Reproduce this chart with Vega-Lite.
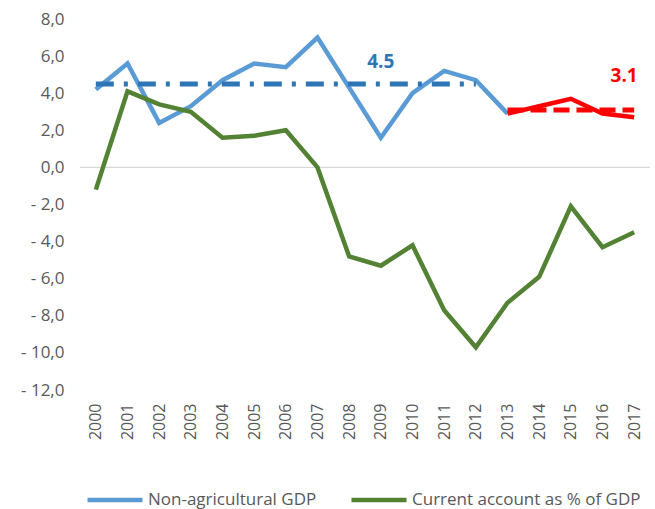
{
  "$schema": "https://vega.github.io/schema/vega-lite/v6.json",
  "width": 570,
  "height": 371,
  "autosize": {"type": "none"},
  "padding": {"left": 80, "top": 19, "right": 5, "bottom": 119},
  "config": {
    "view": {"stroke": null},
    "font": "Open Sans",
    "axis": {"labelColor": "#595959", "labelFontSize": 17, "grid": false, "domain": false, "ticks": false, "title": null}
  },
  "datasets": {
    "series": [
      {"year": "2000", "series": "Non-agricultural GDP", "value": 4.2},
      {"year": "2001", "series": "Non-agricultural GDP", "value": 5.6},
      {"year": "2002", "series": "Non-agricultural GDP", "value": 2.4},
      {"year": "2003", "series": "Non-agricultural GDP", "value": 3.3},
      {"year": "2004", "series": "Non-agricultural GDP", "value": 4.7},
      {"year": "2005", "series": "Non-agricultural GDP", "value": 5.6},
      {"year": "2006", "series": "Non-agricultural GDP", "value": 5.4},
      {"year": "2007", "series": "Non-agricultural GDP", "value": 7.0},
      {"year": "2008", "series": "Non-agricultural GDP", "value": 4.3},
      {"year": "2009", "series": "Non-agricultural GDP", "value": 1.6},
      {"year": "2010", "series": "Non-agricultural GDP", "value": 4.0},
      {"year": "2011", "series": "Non-agricultural GDP", "value": 5.2},
      {"year": "2012", "series": "Non-agricultural GDP", "value": 4.7},
      {"year": "2013", "series": "Non-agricultural GDP", "value": 2.9},
      {"year": "2000", "series": "Current account as % of GDP", "value": -1.2},
      {"year": "2001", "series": "Current account as % of GDP", "value": 4.1},
      {"year": "2002", "series": "Current account as % of GDP", "value": 3.4},
      {"year": "2003", "series": "Current account as % of GDP", "value": 3.0},
      {"year": "2004", "series": "Current account as % of GDP", "value": 1.6},
      {"year": "2005", "series": "Current account as % of GDP", "value": 1.7},
      {"year": "2006", "series": "Current account as % of GDP", "value": 2.0},
      {"year": "2007", "series": "Current account as % of GDP", "value": 0.0},
      {"year": "2008", "series": "Current account as % of GDP", "value": -4.8},
      {"year": "2009", "series": "Current account as % of GDP", "value": -5.3},
      {"year": "2010", "series": "Current account as % of GDP", "value": -4.2},
      {"year": "2011", "series": "Current account as % of GDP", "value": -7.7},
      {"year": "2012", "series": "Current account as % of GDP", "value": -9.7},
      {"year": "2013", "series": "Current account as % of GDP", "value": -7.3},
      {"year": "2014", "series": "Current account as % of GDP", "value": -5.9},
      {"year": "2015", "series": "Current account as % of GDP", "value": -2.1},
      {"year": "2016", "series": "Current account as % of GDP", "value": -4.3},
      {"year": "2017", "series": "Current account as % of GDP", "value": -3.5}
    ],
    "forecast": [
      {"year": "2013", "value": 2.9},
      {"year": "2014", "value": 3.3},
      {"year": "2015", "value": 3.7},
      {"year": "2016", "value": 2.9},
      {"year": "2017", "value": 2.7}
    ],
    "avg": [
      {"year": "2000", "kind": "past", "value": 4.5},
      {"year": "2012", "kind": "past", "value": 4.5},
      {"year": "2013", "kind": "future", "value": 3.1},
      {"year": "2017", "kind": "future", "value": 3.1}
    ],
    "labels": [
      {"year": "2009", "kind": "past", "value": 5.7, "text": "4.5"},
      {"year": "2017", "kind": "future", "value": 4.95, "text": "3.1"}
    ]
  },
  "encoding": {
    "x": {
      "field": "year", "type": "ordinal",
      "scale": {"type": "point", "padding": 0.5, "domain": ["2000","2001","2002","2003","2004","2005","2006","2007","2008","2009","2010","2011","2012","2013","2014","2015","2016","2017"]},
      "axis": {"labelAngle": -90, "labelPadding": 13, "labelFontSize": 16}
    },
    "y": {
      "field": "value", "type": "quantitative",
      "scale": {"domain": [-12, 8], "nice": false, "zero": false},
      "axis": {"values": [-12,-10,-8,-6,-4,-2,0,2,4,6,8], "labelPadding": 16,
        "labelExpr": "datum.value < 0 ? '- ' + replace(format(abs(datum.value), '.1f'), '.', ',') : replace(format(datum.value, '.1f'), '.', ',')"}
    }
  },
  "layer": [
    {
      "data": {"values": [{"value": 0}]},
      "mark": {"type": "rule", "color": "#d9d9d9", "strokeWidth": 1.2},
      "encoding": {"x": null, "y": {"field": "value", "type": "quantitative"}}
    },
    {
      "data": {"name": "series"},
      "mark": {"type": "line", "strokeWidth": 4.5},
      "encoding": {
        "color": {
          "field": "series", "type": "nominal",
          "scale": {"domain": ["Non-agricultural GDP", "Current account as % of GDP"], "range": ["#5b9bd5", "#548235"]},
          "legend": {
            "title": null, "orient": "none", "legendX": 5, "legendY": 451, "direction": "horizontal",
            "symbolType": "stroke", "symbolStrokeWidth": 4.5, "symbolSize": 3025,
            "labelFontSize": 17, "labelColor": "#595959", "labelOffset": 3, "columnPadding": 25, "labelLimit": 400
          }
        }
      }
    },
    {
      "data": {"name": "forecast"},
      "mark": {"type": "line", "strokeWidth": 4.5, "color": "#ff0000"}
    },
    {
      "data": {"name": "avg"},
      "transform": [{"filter": "datum.kind === 'past'"}],
      "mark": {"type": "line", "strokeWidth": 5, "color": "#2e75b6", "strokeDash": [18, 10, 4, 10]}
    },
    {
      "data": {"name": "avg"},
      "transform": [{"filter": "datum.kind === 'future'"}],
      "mark": {"type": "line", "strokeWidth": 5, "color": "#ff0000", "strokeDash": [16, 7]}
    },
    {
      "data": {"name": "labels"},
      "transform": [{"filter": "datum.kind === 'past'"}],
      "mark": {"type": "text", "fontSize": 19, "fontWeight": "bold", "color": "#2e75b6"},
      "encoding": {"text": {"field": "text"}}
    },
    {
      "data": {"name": "labels"},
      "transform": [{"filter": "datum.kind === 'future'"}],
      "mark": {"type": "text", "fontSize": 19, "fontWeight": "bold", "color": "#ff0000", "dx": -10},
      "encoding": {"text": {"field": "text"}}
    }
  ]
}
